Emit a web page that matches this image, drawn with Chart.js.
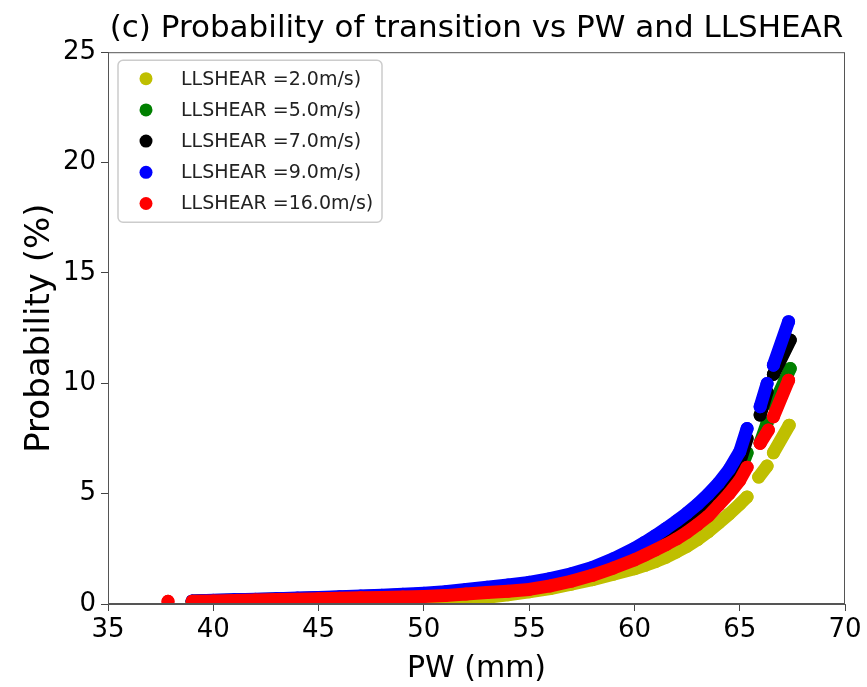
<!DOCTYPE html>
<html>
<head>
<meta charset="utf-8">
<script src="https://cdn.jsdelivr.net/npm/chart.js@4.4.0/dist/chart.umd.min.js"></script>
<style>
  html, body { margin: 0; padding: 0; background: #fff; }
</style>
</head>
<body>
<canvas id="myChart" width="867" height="687"></canvas>
<script>
const shearLabels = ["LLSHEAR =2.0m/s)", "LLSHEAR =5.0m/s)", "LLSHEAR =7.0m/s)", "LLSHEAR =9.0m/s)", "LLSHEAR =16.0m/s)"];
const shearColors = ["#bfbf00", "#008000", "#000000", "#0000ff", "#ff0000"];

// PW (mm) along the main band, shared by all shear classes
const pwMain = [39, 40, 41, 42, 43, 44, 45, 46, 47, 48, 49, 50, 51, 52, 53, 54, 55, 56, 57, 58, 59, 60,
  60.5, 61, 61.5, 62, 62.5, 63, 63.5, 64, 64.5, 65, 65.35];

// Probability (%) on the main band
const probShear2 = [0.04, 0.05, 0.06, 0.07, 0.08, 0.09, 0.1, 0.11, 0.12, 0.13, 0.14, 0.16, 0.19, 0.23, 0.3, 0.42, 0.55, 0.7, 0.9, 1.1, 1.35, 1.6,
  1.75, 1.92, 2.12, 2.36, 2.62, 2.92, 3.27, 3.67, 4.08, 4.52, 4.85];
const probShear5 = [0.12, 0.15, 0.17, 0.19, 0.21, 0.23, 0.26, 0.28, 0.31, 0.34, 0.37, 0.4, 0.45, 0.53, 0.61, 0.68, 0.77, 0.93, 1.14, 1.41, 1.77, 2.14,
  2.36, 2.6, 2.86, 3.15, 3.47, 3.84, 4.25, 4.75, 5.3, 5.95, 6.85];
const probShear7 = [0.13, 0.16, 0.18, 0.2, 0.23, 0.25, 0.28, 0.31, 0.34, 0.37, 0.41, 0.45, 0.51, 0.6, 0.69, 0.78, 0.88, 1.04, 1.25, 1.52, 1.88, 2.32,
  2.58, 2.86, 3.14, 3.46, 3.8, 4.18, 4.6, 5.1, 5.68, 6.42, 7.5];
const probShear9 = [0.14, 0.17, 0.19, 0.21, 0.24, 0.27, 0.3, 0.33, 0.36, 0.4, 0.44, 0.49, 0.56, 0.66, 0.76, 0.86, 0.98, 1.15, 1.37, 1.65, 2.05, 2.52,
  2.8, 3.1, 3.42, 3.76, 4.12, 4.52, 4.97, 5.48, 6.1, 6.9, 7.95];
const probShear16 = [0.12, 0.14, 0.16, 0.18, 0.2, 0.22, 0.24, 0.26, 0.28, 0.3, 0.32, 0.34, 0.38, 0.45, 0.52, 0.58, 0.66, 0.82, 1.03, 1.3, 1.63, 2.0,
  2.22, 2.45, 2.69, 2.95, 3.25, 3.6, 3.98, 4.48, 5.0, 5.6, 6.2];

// short runs of points above 65.5 mm
const pwTopB = { s2: [65.9, 66.3], s5: [65.97, 66.3], s7: [65.97, 66.3], s9: [65.97, 66.3], s16: [65.97, 66.36] };
const probTopB = { s2: [5.75, 6.25], s5: [7.3, 8.2], s7: [8.56, 9.6], s9: [8.94, 9.99], s16: [7.28, 7.88] };
const pwTopC = { s2: [66.6, 67.35], s5: [66.6, 67.4], s7: [66.6, 67.4], s9: [66.6, 67.32], s16: [66.6, 67.32] };
const probTopC = { s2: [6.85, 8.1], s5: [9.0, 10.67], s7: [10.4, 11.96], s9: [10.82, 12.79], s16: [8.48, 10.14] };

// lone low-PW point of the 16 m/s class
const pwLone16 = [37.85];
const probLone16 = [0.12];

const xTicks = [35, 40, 45, 50, 55, 60, 65, 70];
const yTicks = [0, 5, 10, 15, 20, 25];

const FONT = "'DejaVu Sans', sans-serif";

const joinSegments = (...segments) => {
  const points = [];
  segments.forEach(([pw, prob], i) => {
    if (i > 0) points.push({ x: pw[0], y: null });
    pw.forEach((x, j) => points.push({ x: x, y: prob[j] }));
  });
  return points;
};

const seriesPoints = [
  joinSegments([pwMain, probShear2], [pwTopB.s2, probTopB.s2], [pwTopC.s2, probTopC.s2]),
  joinSegments([pwMain, probShear5], [pwTopB.s5, probTopB.s5], [pwTopC.s5, probTopC.s5]),
  joinSegments([pwMain, probShear7], [pwTopB.s7, probTopB.s7], [pwTopC.s7, probTopC.s7]),
  joinSegments([pwMain, probShear9], [pwTopB.s9, probTopB.s9], [pwTopC.s9, probTopC.s9]),
  joinSegments([pwLone16, probLone16], [pwMain, probShear16], [pwTopB.s16, probTopB.s16], [pwTopC.s16, probTopC.s16]),
];

const datasets = seriesPoints.map((points, i) => ({
  label: shearLabels[i],
  data: points,
  showLine: true,
  borderColor: shearColors[i],
  backgroundColor: shearColors[i],
  borderWidth: 13,
  borderCapStyle: "round",
  borderJoinStyle: "round",
  pointRadius: 6.5,
  pointBorderWidth: 0,
  pointHoverRadius: 6.5,
  clip: 0,
  order: shearLabels.length - i, // later classes drawn on top
}));

// axes frame on all four sides
const framePlugin = {
  id: "frame",
  afterDatasetsDraw(chart) {
    const { ctx, chartArea } = chart;
    ctx.save();
    ctx.strokeStyle = "#555";
    ctx.lineWidth = 1;
    ctx.strokeRect(chartArea.left + 0.5, chartArea.top + 0.5, chartArea.width - 1, chartArea.height - 1);
    ctx.restore();
  },
};

// boxed legend in the upper left corner of the plot
const boxLegendPlugin = {
  id: "boxLegend",
  afterDatasetsDraw(chart) {
    const { ctx, chartArea } = chart;
    const left = chartArea.left + 10;
    const top = chartArea.top + 8;
    const w = 264;
    const h = 162;
    const r = 5;
    ctx.save();
    ctx.beginPath();
    ctx.moveTo(left + r, top);
    ctx.arcTo(left + w, top, left + w, top + h, r);
    ctx.arcTo(left + w, top + h, left, top + h, r);
    ctx.arcTo(left, top + h, left, top, r);
    ctx.arcTo(left, top, left + w, top, r);
    ctx.closePath();
    ctx.fillStyle = "rgba(255,255,255,0.8)";
    ctx.fill();
    ctx.strokeStyle = "#cccccc";
    ctx.lineWidth = 1.5;
    ctx.stroke();

    ctx.font = `19px ${FONT}`;
    ctx.textBaseline = "middle";
    ctx.textAlign = "left";
    chart.data.datasets.forEach((ds, i) => {
      const cy = top + 18.5 + i * 31.2;
      ctx.beginPath();
      ctx.arc(left + 28, cy, 6.5, 0, Math.PI * 2);
      ctx.fillStyle = ds.backgroundColor;
      ctx.fill();
      ctx.fillStyle = "#222";
      ctx.fillText(ds.label, left + 63, cy + 1);
    });
    ctx.restore();
  },
};

const scatterChart = {
  type: "scatter",
  data: { datasets },
  options: {
    responsive: false,
    animation: false,
    events: [],
    layout: { padding: { left: 0, right: 22, top: 0, bottom: 0 } },
    plugins: {
      legend: { display: false },
      tooltip: { enabled: false },
      title: {
        display: true,
        text: "(c) Probability of transition vs PW and LLSHEAR",
        fullSize: false,
        color: "#000",
        font: { family: FONT, size: 31, weight: "normal" },
        padding: { top: 10, bottom: 5 },
      },
    },
    scales: {
      x: {
        type: "linear",
        min: 35,
        max: 70,
        afterBuildTicks: (scale) => {
          scale.ticks = xTicks.map((v) => ({ value: v }));
        },
        afterFit: (scale) => {
          scale.height = 83;
        },
        ticks: { color: "#000", padding: 4, font: { family: FONT, size: 26 } },
        grid: { drawOnChartArea: false, drawTicks: true, tickLength: 7, color: "#444" },
        border: { display: true, color: "#555" },
        title: {
          display: true,
          text: "PW (mm)",
          color: "#000",
          font: { family: FONT, size: 30 },
          padding: { top: 0, bottom: 0 },
        },
      },
      y: {
        type: "linear",
        min: 0,
        max: 25,
        afterBuildTicks: (scale) => {
          scale.ticks = yTicks.map((v) => ({ value: v }));
        },
        afterFit: (scale) => {
          scale.width = 108;
        },
        ticks: { color: "#000", padding: 5, font: { family: FONT, size: 26 } },
        grid: { drawOnChartArea: false, drawTicks: true, tickLength: 7, color: "#444" },
        border: { display: true, color: "#555" },
        title: {
          display: true,
          text: "Probability (%)",
          color: "#000",
          font: { family: FONT, size: 34 },
          padding: { top: 20, bottom: 0 },
        },
      },
    },
  },
  plugins: [framePlugin, boxLegendPlugin],
};

const ctx = document.querySelector("canvas#myChart").getContext("2d");
const myChart = new Chart(ctx, scatterChart);
</script>
</body>
</html>
